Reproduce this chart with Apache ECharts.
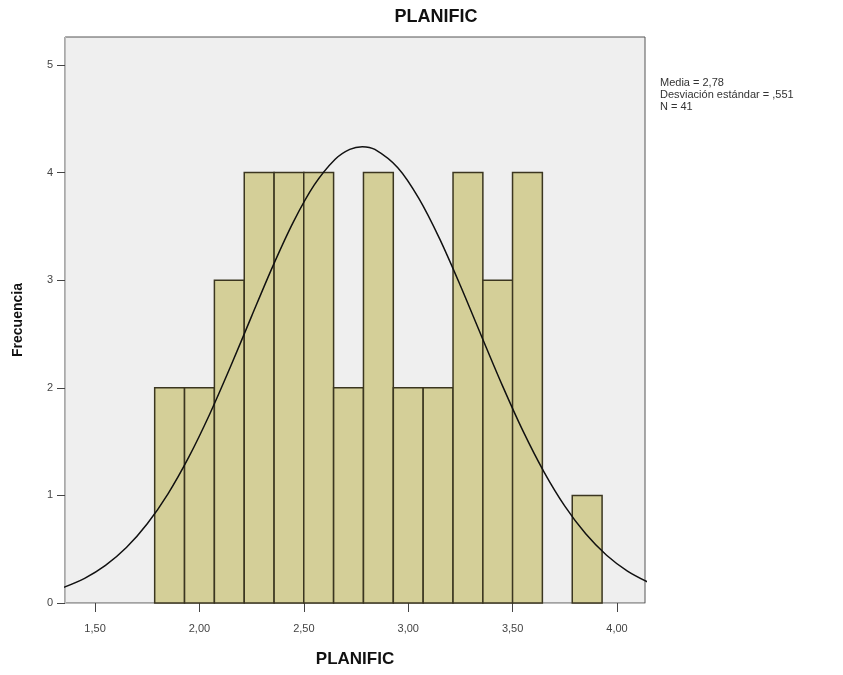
<!DOCTYPE html>
<html>
<head>
<meta charset="utf-8">
<script src="https://cdn.jsdelivr.net/npm/echarts@6/dist/echarts.min.js"></script>
<style>html,body{margin:0;padding:0;background:#fff}#c{width:843px;height:675px}</style>
</head>
<body>
<div id="c"></div>
<script>
// Histogram bins (centres of bins, width 1/7)
const binCenters = [1.857, 2.000, 2.143, 2.286, 2.429, 2.571, 2.714, 2.857, 3.000, 3.143, 3.286, 3.429, 3.571, 3.714, 3.857];
const binCounts  = [2, 2, 3, 4, 4, 4, 2, 4, 2, 2, 4, 3, 4, 0, 1];
const binWidth = 0.1429;

// Normal curve
const curveX = [1.35, 1.45, 1.55, 1.65, 1.75, 1.85, 1.95, 2.05, 2.15, 2.25, 2.35, 2.45, 2.55, 2.65, 2.72, 2.78, 2.84, 2.95, 3.05, 3.15, 3.25, 3.35, 3.45, 3.55, 3.65, 3.75, 3.85, 3.95, 4.05, 4.15];
const curveY = [0.145, 0.229, 0.349, 0.515, 0.736, 1.017, 1.360, 1.759, 2.202, 2.666, 3.124, 3.542, 3.885, 4.124, 4.216, 4.241, 4.215, 4.045, 3.762, 3.386, 2.948, 2.484, 2.025, 1.597, 1.219, 0.900, 0.643, 0.444, 0.297, 0.192];

const xTickValues = [1.5, 2.0, 2.5, 3.0, 3.5, 4.0];
const xTickLabels = ['1,50', '2,00', '2,50', '3,00', '3,50', '4,00'];
const yTickValues = [0, 1, 2, 3, 4, 5];

const titleText = 'PLANIFIC';
const xName = 'PLANIFIC';
const yName = 'Frecuencia';
const statsLines = ['Media = 2,78', 'Desviación estándar = ,551', 'N = 41'];

const chart = echarts.init(document.getElementById('c'), null, {renderer: 'canvas'});
const barData = binCenters.map((c, i) => [c, binCounts[i]]);
const lineData = curveX.map((x, i) => [x, curveY[i]]);

chart.setOption({
  animation: false,
  backgroundColor: '#ffffff',
  textStyle: {fontFamily: 'Liberation Sans, Arial, sans-serif'},
  title: [
    {text: titleText, left: 431, top: 3, textAlign: 'center',
     textStyle: {fontSize: 18, fontWeight: 'bold', color: '#111'}},
    {text: statsLines.join('\n'), left: 655, top: 72,
     textStyle: {fontSize: 11, fontWeight: 'normal', color: '#333', lineHeight: 12}}
  ],
  grid: {left: 65, right: 198, top: 37, bottom: 72, show: true,
         backgroundColor: '#efefef', borderColor: '#555', borderWidth: 1},
  xAxis: {
    type: 'value', min: 1.356, max: 4.134,
    name: xName, nameLocation: 'middle', nameGap: 48,
    nameTextStyle: {fontSize: 17, fontWeight: 'bold', color: '#111'},
    axisLine: {show: true, lineStyle: {color: '#bbb'}},
    axisTick: {show: true, length: 9, customValues: xTickValues, lineStyle: {color: '#444'}},
    axisLabel: {customValues: xTickValues, color: '#444', fontSize: 11, margin: 20,
                formatter: v => xTickLabels[xTickValues.findIndex(t => Math.abs(t - v) < 1e-6)] || ''},
    splitLine: {show: false}
  },
  yAxis: {
    type: 'value', min: 0, max: 5.26,
    name: yName, nameLocation: 'middle', nameGap: 40, nameRotate: 90,
    nameTextStyle: {fontSize: 14, fontWeight: 'bold', color: '#111'},
    axisLine: {show: true, lineStyle: {color: '#bbb'}},
    axisTick: {show: true, length: 8, customValues: yTickValues, lineStyle: {color: '#444'}},
    axisLabel: {customValues: yTickValues, color: '#444', fontSize: 11, margin: 12},
    splitLine: {show: false}
  },
  series: [
    {
      type: 'custom',
      data: barData,
      renderItem: function (params, api) {
        const c = api.value(0), v = api.value(1);
        if (!v) return null;
        const p0 = api.coord([c - binWidth / 2, v]);
        const p1 = api.coord([c + binWidth / 2, 0]);
        return {type: 'rect',
          shape: {x: p0[0], y: p0[1], width: p1[0] - p0[0], height: p1[1] - p0[1]},
          style: {fill: '#d4cf98', stroke: '#3b3620', lineWidth: 1.5}};
      },
      encode: {x: 0, y: 1},
      z: 2
    },
    {
      type: 'line', data: lineData, smooth: 0.3, showSymbol: false, clip: true,
      lineStyle: {color: '#111', width: 1.5}, z: 3
    }
  ]
});
</script>
</body>
</html>
